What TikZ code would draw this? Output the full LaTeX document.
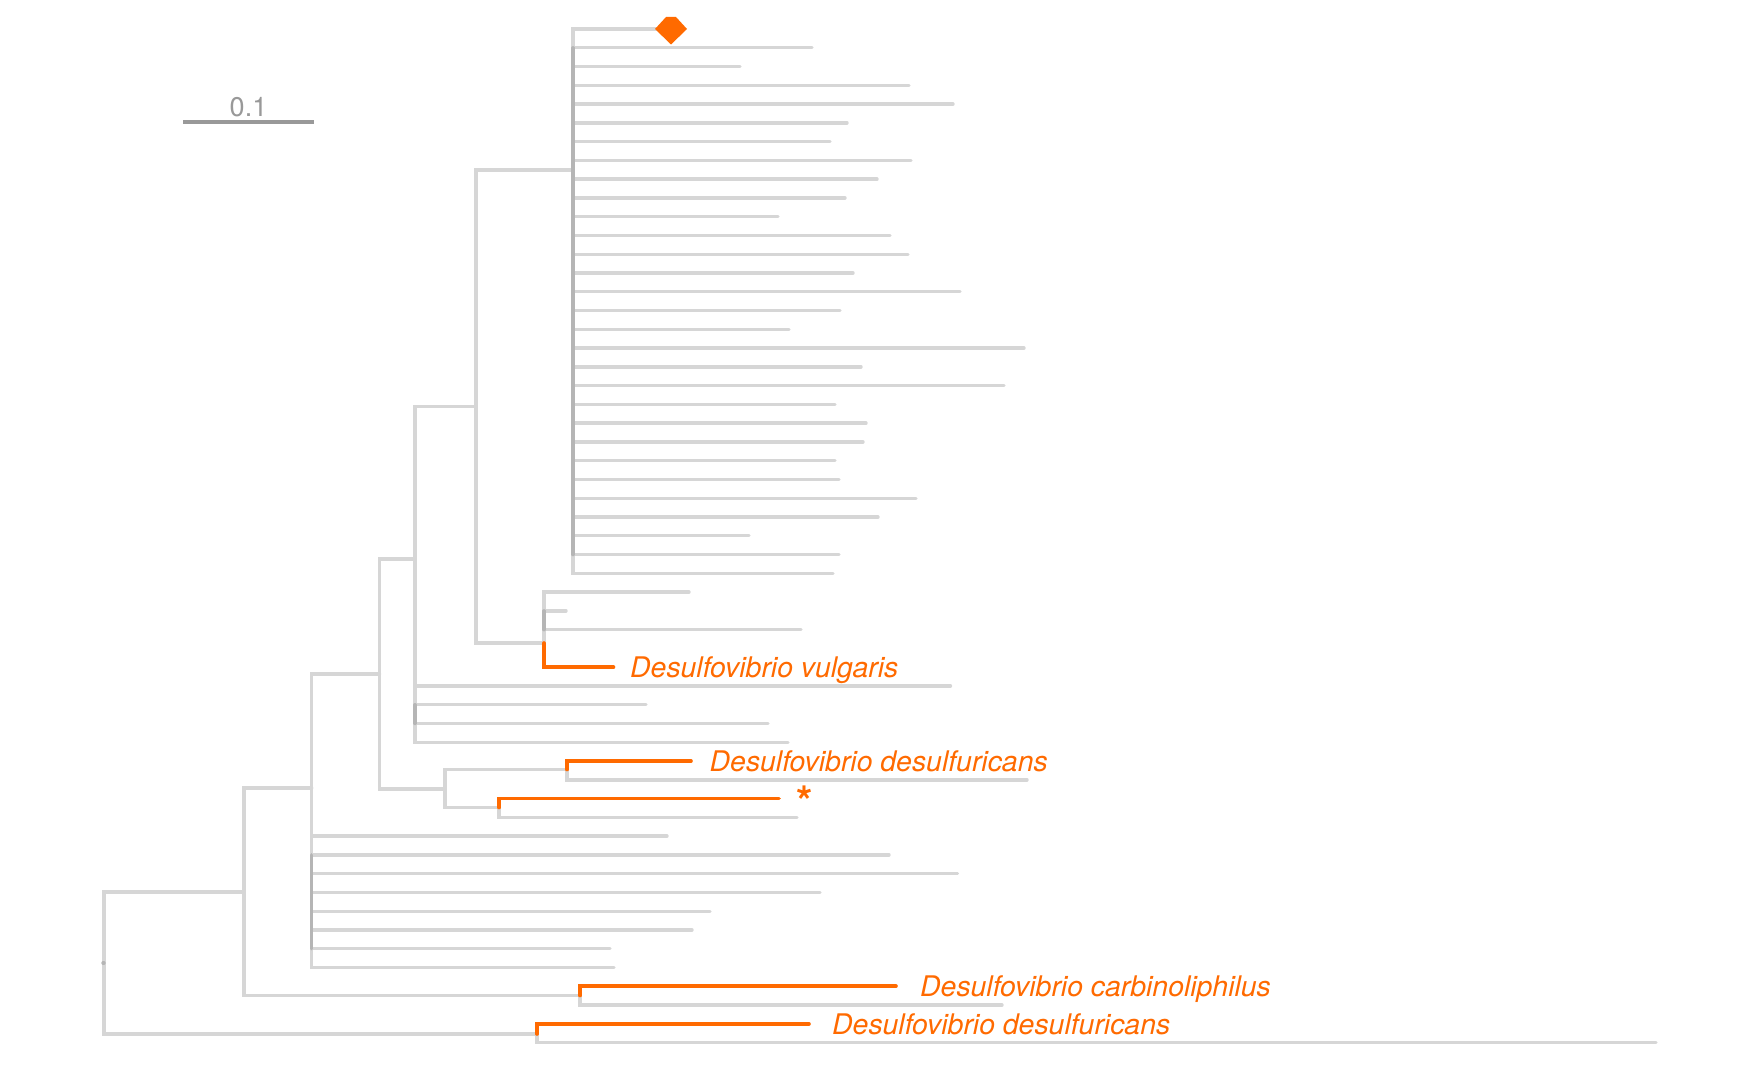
\documentclass[tikz,border=0pt]{standalone}
\usepackage{fontspec}
\setmainfont{TeX Gyre Heros}
\definecolor{hitorange}{HTML}{FF6A00}

\begin{document}
\begin{tikzpicture}[x=1pt, y=-1pt, line cap=round,
	branch/.style={draw=black!16, line width=3.4pt},
	hub/.style={draw=black!29, line width=3.4pt},
	hit/.style={draw=hitorange, line width=3.6pt},
	taxon/.style={text=hitorange, font=\fontsize{28.4}{34}\selectfont\itshape, inner sep=0pt, anchor=base west, yshift=-10.2pt}]
	\useasboundingbox (0,0) rectangle (1750,1081);
	% scale bar
	\draw[draw=black!40, line width=3.2pt, line cap=butt] (183,122) coordinate (sbl) -- (314,122) coordinate (sbr);
	\node[text=black!40, font=\fontsize{27}{32}\selectfont, inner sep=0pt, anchor=base] (sblabel) at (248.5,116) {0.1};
	% internal nodes
	\coordinate (root) at (104,963);
	\coordinate (n1) at (244,892);
	\coordinate (n2) at (537,1034);
	\coordinate (n3) at (311.7,788);
	\coordinate (n4) at (580,995.5);
	\coordinate (n5) at (379.5,674);
	\coordinate (n6) at (415,559);
	\coordinate (n7) at (445,789);
	\coordinate (n8) at (567,769.5);
	\coordinate (n9) at (499,807.5);
	\coordinate (n10) at (476,406.7);
	\coordinate (n11) at (573,170);
	\coordinate (n12) at (544,643);
	% tips
	\foreach \len [count=\i from 0] in {671,812,740,909,953,847,830,911,877,845,778,890,908,853,960,840,789,1024,861,1004,835,866,863,835,839,916,878,749,839,833}
		\coordinate (a\i) at (\len,{29+18.77*\i});
	\foreach \len [count=\i from 30] in {689,566,801}
		\coordinate (v\i) at (\len,{29+18.77*\i});
	\coordinate (vul) at (613.5,{29+18.77*34});
	\foreach \len [count=\i from 35] in {950.5,646,768,788}
		\coordinate (b\i) at (\len,{29+18.77*\i});
	\coordinate (des1) at (691,{29+18.77*39});
	\coordinate (d40) at (1027,{29+18.77*40});
	\coordinate (star) at (779,{29+18.77*41});
	\coordinate (d42) at (797,{29+18.77*42});
	\foreach \len [count=\i from 43] in {667,889,957.5,820,710,692,610,614}
		\coordinate (c\i) at (\len,{29+18.77*\i});
	\coordinate (carb) at (896,{29+18.77*51});
	\coordinate (d52) at (1002,{29+18.77*52});
	\coordinate (des2) at (809,{29+18.77*53});
	\coordinate (d54) at (1656,{29+18.77*54});
	% grey branches
	\draw[branch] (root) |- (n1);
	\draw[branch] (root) |- (n2);
	\draw[branch] (n1) |- (n3);
	\draw[branch] (n1) |- (n4);
	\draw[branch] (n3) |- (n5);
	\draw[branch] (n5) |- (n6);
	\draw[branch] (n5) |- (n7);
	\draw[branch] (n7) |- (n8);
	\draw[branch] (n7) |- (n9);
	\draw[branch] (n6) |- (n10);
	\draw[branch] (n10) |- (n11);
	\draw[branch] (n10) |- (n12);
	\foreach \i in {0,...,29}
		\draw[branch] (n11) |- (a\i);
	\foreach \i in {30,31,32}
		\draw[branch] (n12) |- (v\i);
	\foreach \i in {35,...,38}
		\draw[branch] (n6) |- (b\i);
	\foreach \i in {43,...,50}
		\draw[branch] (n3) |- (c\i);
	\draw[branch] (n8) |- (d40);
	\draw[branch] (n9) |- (d42);
	\draw[branch] (n4) |- (d52);
	\draw[branch] (n2) |- (d54);
	\draw[hub] (n11 |- a1) -- (n11 |- a28);
	\draw[hub] (n12 |- v31) -- (n12 |- v32);
	\draw[hub] (n6 |- b36) -- (n6 |- b37);
	\draw[hub] (n3 |- c44) -- (n3 |- c49);
	\draw[hub] (root) -- ++(-1,0);
	% highlighted taxa
	\draw[hit] (n12) |- (vul);
	\draw[hit] (n8) |- (des1);
	\draw[hit] (n9) |- (star);
	\draw[hit] (n4) |- (carb);
	\draw[hit] (n2) |- (des2);
	\fill[hitorange] (a0) ++(-16,0) -- ++(11,-12) -- ++(10,0) -- ++(11,12) -- ++(-16,15.5) -- cycle;
	\node[taxon, xshift=16.5pt] (lvul) at (vul) {Desulfovibrio vulgaris};
	\node[taxon, xshift=18.5pt] (ldes1) at (des1) {Desulfovibrio desulfuricans};
	\node[taxon, font=\fontsize{42}{48}\selectfont\bfseries, xshift=17pt, yshift=-7.5pt] (lstar) at (star) {*};
	\node[taxon, xshift=24pt] (lcarb) at (carb) {Desulfovibrio carbinoliphilus};
	\node[taxon, xshift=23pt] (ldes2) at (des2) {Desulfovibrio desulfuricans};
\end{tikzpicture}
\end{document}
